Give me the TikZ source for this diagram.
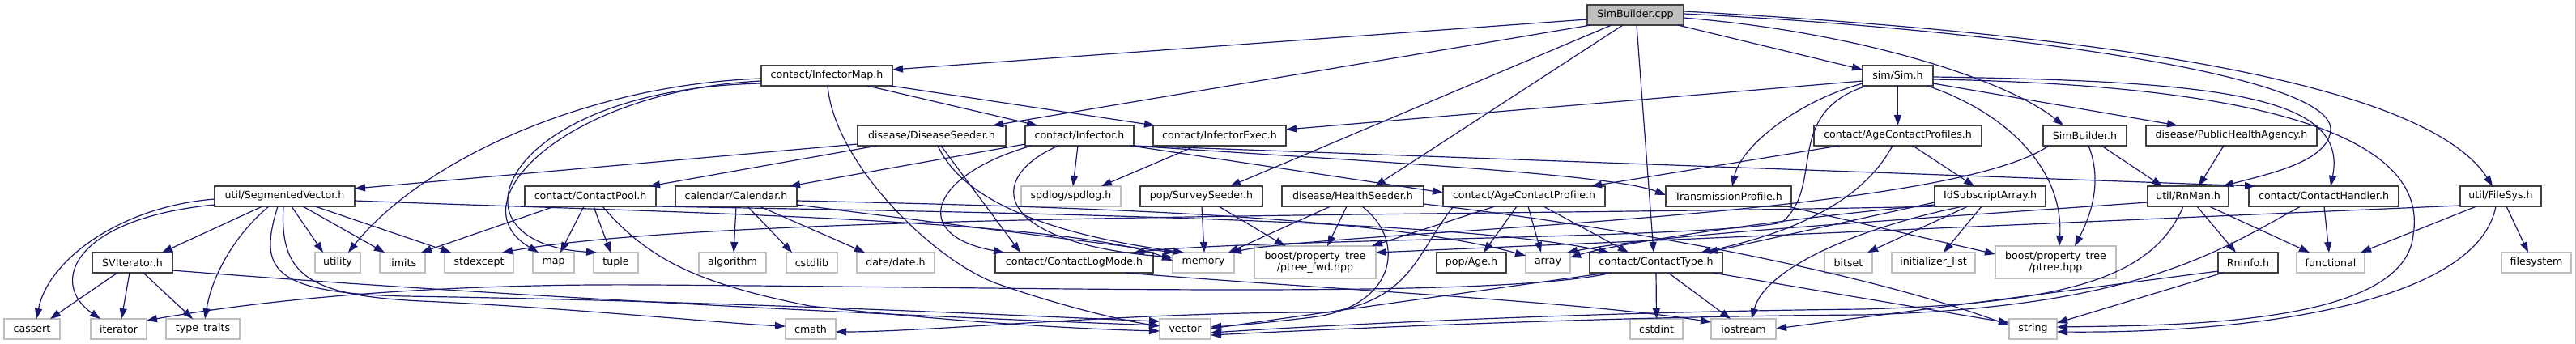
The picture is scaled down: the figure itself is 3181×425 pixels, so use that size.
\documentclass[tikz,border=0pt]{standalone}
\usepackage{fontspec}
\setmainfont{DejaVu Sans}
\usetikzlibrary{arrows.meta}
\definecolor{edgeblue}{HTML}{191970}
\definecolor{dkgray}{HTML}{404040}
\definecolor{ltgray}{HTML}{BFBFBF}
\definecolor{fillgray}{HTML}{BFBFBF}
\newcommand\edgeS[6]{\draw[e] ([shift={(#2,#3)}]#1.center) -- ([shift={(#5,#6)}]#4.center);}
\newcommand\edgeC[8]{\draw[e] ([shift={(#2,#3)}]#1.center) .. controls (#7) and (#8) .. ([shift={(#5,#6)}]#4.center);}
\begin{document}
\begin{tikzpicture}[x=1pt,y=-1pt,
  box/.style={rectangle, inner sep=0pt, minimum height=25pt, text=black, font=\fontsize{12.6}{14}\selectfont},
  dk/.style={box, draw=dkgray, line width=1.6pt},
  lt/.style={box, draw=ltgray, line width=1.3pt},
  e/.style={draw=edgeblue, line width=1.2pt, -{Triangle[length=13pt,width=9pt]}}]
\useasboundingbox[fill=white] (0,0) rectangle (3181,425);
\draw[ltgray, line width=1pt] (3180,0) -- (3180,425);
% row 0
\node[dk, fill=fillgray, minimum width=119pt] (sb) at (2019.5,18.5) {SimBuilder.cpp};
% row 1
\node[dk, minimum width=162pt] (infmap) at (1021,93.5) {contact/InfectorMap.h};
\node[dk, minimum width=87pt] (sim) at (2343.5,93.5) {sim/Sim.h};
% row 2
\node[dk, minimum width=183pt] (dseed) at (1150.5,167.5) {disease/DiseaseSeeder.h};
\node[dk, minimum width=134pt] (infector) at (1333,167.5) {contact/Infector.h};
\node[dk, minimum width=164pt] (iexec) at (1506,167.5) {contact/InfectorExec.h};
\node[dk, minimum width=207pt] (acps) at (2343.5,167.5) {contact/AgeContactProfiles.h};
\node[dk, minimum width=103pt] (sbh) at (2574.5,167.5) {SimBuilder.h};
\node[dk, minimum width=211pt] (pha) at (2755.5,167.5) {disease/PublicHealthAgency.h};
% row 3
\node[dk, minimum width=173pt] (segvec) at (351.5,242.5) {util/SegmentedVector.h};
\node[dk, minimum width=162pt] (cpool) at (729,242.5) {contact/ContactPool.h};
\node[dk, minimum width=150pt] (calendar) at (909,242.5) {calendar/Calendar.h};
\node[lt, minimum width=123pt] (spdlog) at (1322.5,242.5) {spdlog/spdlog.h};
\node[dk, minimum width=151pt] (sseed) at (1483.5,242.5) {pop/SurveySeeder.h};
\node[dk, minimum width=175pt] (hseed) at (1670.5,242.5) {disease/HealthSeeder.h};
\node[dk, minimum width=200pt] (acp) at (1882,242.5) {contact/AgeContactProfile.h};
\node[dk, minimum width=155pt] (tprof) at (2134.5,242.5) {TransmissionProfile.h};
\node[dk, minimum width=137pt] (idsub) at (2457.5,242.5) {IdSubscriptArray.h};
\node[dk, minimum width=100pt] (rnman) at (2702,242.5) {util/RnMan.h};
\node[dk, minimum width=185pt] (chand) at (2869.5,242.5) {contact/ContactHandler.h};
\node[dk, minimum width=100pt] (fsys) at (3088,242.5) {util/FileSys.h};
% row 4
\node[dk, minimum width=99pt] (sviter) at (163.5,324.5) {SVIterator.h};
\node[lt, minimum width=56pt] (utility) at (417,324.5) {utility};
\node[lt, minimum width=56pt] (limits) at (497,324.5) {limits};
\node[lt, minimum width=85pt] (stdexcept) at (591.5,324.5) {stdexcept};
\node[lt, minimum width=51pt] (map) at (683.5,324.5) {map};
\node[lt, minimum width=55pt] (tuple) at (760.5,324.5) {tuple};
\node[lt, minimum width=83pt] (algorithm) at (904.5,324.5) {algorithm};
\node[lt, minimum width=63pt] (cstdlib) at (1002.5,324.5) {cstdlib};
\node[lt, minimum width=96pt] (date) at (1106,324.5) {date/date.h};
\node[dk, minimum width=195pt] (clog) at (1326.5,324.5) {contact/ContactLogMode.h};
\node[lt, minimum width=76pt] (memory) at (1486,324.5) {memory};
\node[lt, minimum width=150pt, minimum height=40pt, align=center] (ptreefwd) at (1624,324) {boost/property\_tree\\/ptree\_fwd.hpp};
\node[dk, minimum width=86pt] (age) at (1817,324.5) {pop/Age.h};
\node[lt, minimum width=55pt] (array) at (1911.5,324.5) {array};
\node[dk, minimum width=164pt] (ctype) at (2045,324.5) {contact/ContactType.h};
\node[lt, minimum width=59pt] (bitset) at (2282.5,324.5) {bitset};
\node[lt, minimum width=103pt] (initlist) at (2387.5,324.5) {initializer\_list};
\node[lt, minimum width=149pt, minimum height=40pt, align=center] (ptree) at (2538.5,324) {boost/property\_tree\\/ptree.hpp};
\node[dk, minimum width=74pt] (rninfo) at (2776,324.5) {RnInfo.h};
\node[lt, minimum width=84pt] (functional) at (2878,324.5) {functional};
\node[lt, minimum width=86pt] (filesystem) at (3132,324.5) {filesystem};
% row 5
\node[lt, minimum width=69pt] (cassert) at (39.5,406.5) {cassert};
\node[lt, minimum width=69pt] (iterator) at (146.5,406.5) {iterator};
\node[lt, minimum width=91pt] (typetraits) at (250.5,406.5) {type\_traits};
\node[lt, minimum width=62pt] (cmath) at (1001,406.5) {cmath};
\node[lt, minimum width=63pt] (vector) at (1463.5,406.5) {vector};
\node[lt, minimum width=65pt] (cstdint) at (2045.5,406.5) {cstdint};
\node[lt, minimum width=80pt] (iostream) at (2153,406.5) {iostream};
\node[lt, minimum width=59pt] (string) at (2510.5,406.5) {string};
% ---- edges: SimBuilder.cpp
\edgeS{sb}{-59.5}{5.5}{infmap}{81}{-7.5}
\edgeS{sb}{-55}{12.5}{dseed}{75.5}{-12.5}
\edgeS{sb}{-29.5}{12.5}{sseed}{35.5}{-12.5}
\edgeS{sb}{-15.5}{12.5}{hseed}{27.5}{-12.5}
\edgeS{sb}{1.5}{12.5}{ctype}{-3}{-12.5}
\edgeS{sb}{52.5}{12.5}{sim}{-43.5}{-7.5}
\edgeC{sb}{59.5}{3.5}{sbh}{-26.5}{-12.5}{2300,40}{2480,100}
\draw[e] ([shift={(59.5,-1.5)}]sb.center) .. controls (2450,35) and (2880,90) .. (2878,160) .. controls (2876,200) and (2800,215) .. ([shift={(43,-12.5)}]rnman.center);
\edgeC{sb}{59.5}{-4.5}{fsys}{-10}{-12.5}{2650,45}{3000,110}
% ---- sim/Sim.h
\edgeS{sim}{0}{12.5}{acps}{0}{-12.5}
\edgeC{sim}{-43.5}{9.5}{tprof}{4.5}{-12.5}{2220,125}{2150,180}
\edgeS{sim}{-43.5}{6.5}{iexec}{82}{-7.5}
\draw[e] ([shift={(-38.5,12.5)}]sim.center) .. controls (2200,140) and (2255,230) .. (2200,275) .. controls (2100,295) and (1550,295) .. ([shift={(73.5,-12.5)}]clog.center);
\edgeC{sim}{36.5}{12.5}{ptree}{4.5}{-20}{2480,140}{2548,210}
\edgeS{sim}{43.5}{9.5}{pha}{-66.5}{-12.5}
\edgeC{sim}{43.5}{1.5}{chand}{8.5}{-12.5}{2750,100}{2900,120}
\draw[e] ([shift={(43.5,4.5)}]sim.center) .. controls (2800,105) and (3000,170) .. (2980,290) .. controls (2970,400) and (2700,402) .. ([shift={(29.5,-2.5)}]string.center);
% ---- InfectorMap
\edgeC{infmap}{-81}{3.5}{utility}{13}{-12.5}{720,105}{520,200}
\edgeC{infmap}{-81}{6.5}{map}{-18.5}{-12.5}{700,112}{560,250}
\edgeC{infmap}{-81}{9.5}{tuple}{-23.5}{-12.5}{620,110}{540,300}
\draw[e] ([shift={(1,12.5)}]infmap.center) .. controls (1030,200) and (1150,320) .. (1230,350) .. controls (1300,375) and (1380,395) .. ([shift={(-31.5,-3.5)}]vector.center);
\edgeS{infmap}{50}{12.5}{infector}{-52}{-12.5}
\edgeS{infmap}{79}{12.5}{iexec}{-80}{-12.5}
% ---- DiseaseSeeder
\edgeS{dseed}{-91.5}{10.5}{segvec}{86.5}{-9.5}
\edgeS{dseed}{-67.5}{12.5}{cpool}{73}{-12.5}
\edgeS{dseed}{11.5}{12.5}{clog}{-66.5}{-12.5}
\edgeC{dseed}{7.5}{12.5}{memory}{-24}{-12.5}{1190,250}{1300,290}
% ---- Infector
\edgeS{infector}{-67}{10.5}{calendar}{66}{-12.5}
\edgeC{infector}{-59}{12.5}{clog}{-86.5}{-12.5}{1150,215}{1120,290}
\edgeC{infector}{-26}{12.5}{memory}{-38}{-6.5}{1215,220}{1225,300}
\edgeS{infector}{-2}{12.5}{spdlog}{2.5}{-12.5}
\edgeS{infector}{63}{12.5}{acp}{-100}{-4.5}
\edgeC{infector}{65}{12.5}{tprof}{-77.5}{-1.5}{1700,200}{1990,215}
\edgeS{infector}{67}{12.5}{chand}{-84.5}{-12.5}
% ---- InfectorExec, SurveySeeder, HealthSeeder
\edgeS{iexec}{-29}{12.5}{spdlog}{37.5}{-12.5}
\edgeS{sseed}{0.5}{12.5}{memory}{1}{-12.5}
\edgeS{sseed}{21.5}{12.5}{ptreefwd}{-37}{-20}
\edgeS{hseed}{-27.5}{12.5}{memory}{31}{-12.5}
\edgeS{hseed}{-7.5}{12.5}{ptreefwd}{15}{-20}
\draw[e] ([shift={(11.5,12.5)}]hseed.center) .. controls (1740,300) and (1720,380) .. (1620,392) .. controls (1570,398) and (1530,402) .. ([shift={(31.5,-2.5)}]vector.center);
\edgeC{hseed}{87.5}{9.5}{string}{-29.5}{-4.5}{2000,280}{2300,335}
% ---- AgeContactProfile
\edgeS{acp}{-36}{12.5}{ptreefwd}{70}{-20}
\edgeS{acp}{-9}{12.5}{age}{15}{-12.5}
\edgeS{acp}{5}{12.5}{array}{-8.5}{-12.5}
\edgeS{acp}{24}{12.5}{ctype}{-34}{-12.5}
\draw[e] ([shift={(-87,12.5)}]acp.center) .. controls (1750,310) and (1745,370) .. (1640,386) .. controls (1400,385) and (1150,410) .. ([shift={(31,3.5)}]cmath.center);
% ---- TransmissionProfile
\edgeS{tprof}{72.5}{12.5}{ptree}{-74.5}{-10}
% ---- ContactType
\edgeS{ctype}{0}{12.5}{cstdint}{0}{-12.5}
\edgeS{ctype}{15}{12.5}{iostream}{-16}{-12.5}
\edgeS{ctype}{70}{12.5}{string}{-29.5}{-7.5}
\draw[e] ([shift={(-55,12.5)}]ctype.center) .. controls (1850,370) and (1300,355) .. (800,352) .. controls (500,350) and (300,375) .. ([shift={(34.5,-10.5)}]iterator.center);
\edgeS{ctype}{-60}{12.5}{vector}{31.5}{-0.5}
% ---- Calendar
\edgeS{calendar}{0}{12.5}{algorithm}{1.5}{-12.5}
\edgeS{calendar}{14}{12.5}{cstdlib}{-24.5}{-12.5}
\edgeS{calendar}{29}{12.5}{date}{-38}{-12.5}
\edgeC{calendar}{75}{5.5}{array}{-27.5}{-8.5}{1300,255}{1700,265}
\edgeS{calendar}{75}{10.5}{memory}{-36}{-12.5}
% ---- ContactLogMode
\edgeC{clog}{63.5}{12.5}{iostream}{-40}{-8.5}{1600,355}{1950,372}
% ---- ContactPool
\edgeS{cpool}{-44}{12.5}{limits}{23}{-12.5}
\edgeS{cpool}{-8}{12.5}{map}{8.5}{-12.5}
\edgeS{cpool}{4}{12.5}{tuple}{-6.5}{-12.5}
\draw[e] ([shift={(15,12.5)}]cpool.center) .. controls (800,320) and (860,350) .. (1000,378) .. controls (1200,400) and (1350,407) .. ([shift={(-31.5,2.5)}]vector.center);
\edgeC{cpool}{81}{12.5}{ctype}{-58}{-12.5}{1200,262}{1800,270}
% ---- SegmentedVector
\edgeS{segvec}{-27.5}{12.5}{sviter}{36.5}{-12.5}
\edgeC{segvec}{-86.5}{3.5}{cassert}{5.5}{-12.5}{150,255}{60,320}
\edgeC{segvec}{-86.5}{10.5}{iterator}{-22.5}{-12.5}{90,270}{60,350}
\edgeC{segvec}{-19.5}{12.5}{typetraits}{2.5}{-12.5}{290,290}{262,340}
\edgeS{segvec}{8.5}{12.5}{utility}{-18}{-12.5}
\edgeS{segvec}{22.5}{12.5}{limits}{-22}{-12.5}
\edgeS{segvec}{37.5}{12.5}{stdexcept}{-34.5}{-12.5}
\edgeC{segvec}{86.5}{5.5}{memory}{-38}{-2.5}{800,262}{1320,270}
\draw[e] ([shift={(-8.5,12.5)}]segvec.center) .. controls (320,330) and (330,362) .. (500,366) .. controls (900,372) and (1300,392) .. ([shift={(-31.5,-9.5)}]vector.center);
\draw[e] ([shift={(-1.5,12.5)}]segvec.center) .. controls (345,340) and (380,365) .. (520,372) .. controls (700,380) and (900,400) .. ([shift={(-31,-3.5)}]cmath.center);
% ---- SVIterator
\edgeS{sviter}{-18.5}{12.5}{cassert}{22.5}{-12.5}
\edgeS{sviter}{-3.5}{12.5}{iterator}{3.5}{-12.5}
\edgeS{sviter}{13.5}{12.5}{typetraits}{-12.5}{-12.5}
\edgeC{sviter}{49.5}{9.5}{vector}{-31.5}{-4.5}{600,365}{1100,390}
% ---- IdSubscriptArray
\edgeS{idsub}{-27.5}{12.5}{bitset}{23.5}{-12.5}
\edgeS{idsub}{-10.5}{12.5}{initlist}{12.5}{-12.5}
\edgeC{idsub}{-33.5}{12.5}{iostream}{10}{-12.5}{2300,280}{2180,330}
\edgeS{idsub}{-68.5}{7.5}{ctype}{63}{-12.5}
\edgeC{idsub}{-68.5}{10.5}{array}{27.5}{-6.5}{2200,270}{2000,300}
\edgeC{idsub}{-65.5}{12.5}{stdexcept}{28.5}{-12.5}{1800,268}{900,262}
% ---- AgeContactProfiles
\edgeS{acps}{-72.5}{12.5}{acp}{83}{-12.5}
\edgeC{acps}{-6.5}{12.5}{ctype}{55}{-12.5}{2310,230}{2250,280}
\edgeS{acps}{18.5}{12.5}{idsub}{-19.5}{-12.5}
% ---- SimBuilder.h
\edgeC{sbh}{4.5}{12.5}{ptree}{23.5}{-20}{2595,220}{2585,260}
\edgeS{sbh}{20.5}{12.5}{rnman}{-32}{-12.5}
\edgeC{sbh}{-44.5}{12.5}{memory}{34}{-12.5}{2400,270}{1650,285}
% ---- PublicHealthAgency, RnMan, ContactHandler, RnInfo, FileSys
\edgeS{pha}{-9.5}{12.5}{rnman}{13}{-12.5}
\edgeS{rnman}{11}{12.5}{rninfo}{-15}{-12.5}
\edgeS{rnman}{26}{12.5}{functional}{-26}{-12.5}
\draw[e] ([shift={(-6,12.5)}]rnman.center) .. controls (2660,340) and (2560,375) .. (2300,382) .. controls (2000,385) and (1700,398) .. ([shift={(31.5,4.5)}]vector.center);
\edgeC{rnman}{-50}{7.5}{array}{23.5}{-12.5}{2300,275}{2050,290}
\edgeS{chand}{0.5}{12.5}{functional}{-2}{-12.5}
\draw[e] ([shift={(-28.5,12.5)}]chand.center) .. controls (2740,310) and (2640,380) .. (2300,389) .. controls (2000,391) and (1700,404) .. ([shift={(31.5,7.5)}]vector.center);
\edgeS{rninfo}{-31}{12.5}{string}{29.5}{-7.5}
\edgeS{rninfo}{-37}{10.5}{iostream}{40}{-0.5}
\edgeS{fsys}{7}{12.5}{filesystem}{-10}{-12.5}
\edgeS{fsys}{-30}{12.5}{functional}{37}{-12.5}
\edgeC{fsys}{-6}{12.5}{string}{29.5}{3.5}{3060,370}{2800,412}
\edgeS{fsys}{-50}{11.5}{ptreefwd}{75}{-12}
\end{tikzpicture}
\end{document}
